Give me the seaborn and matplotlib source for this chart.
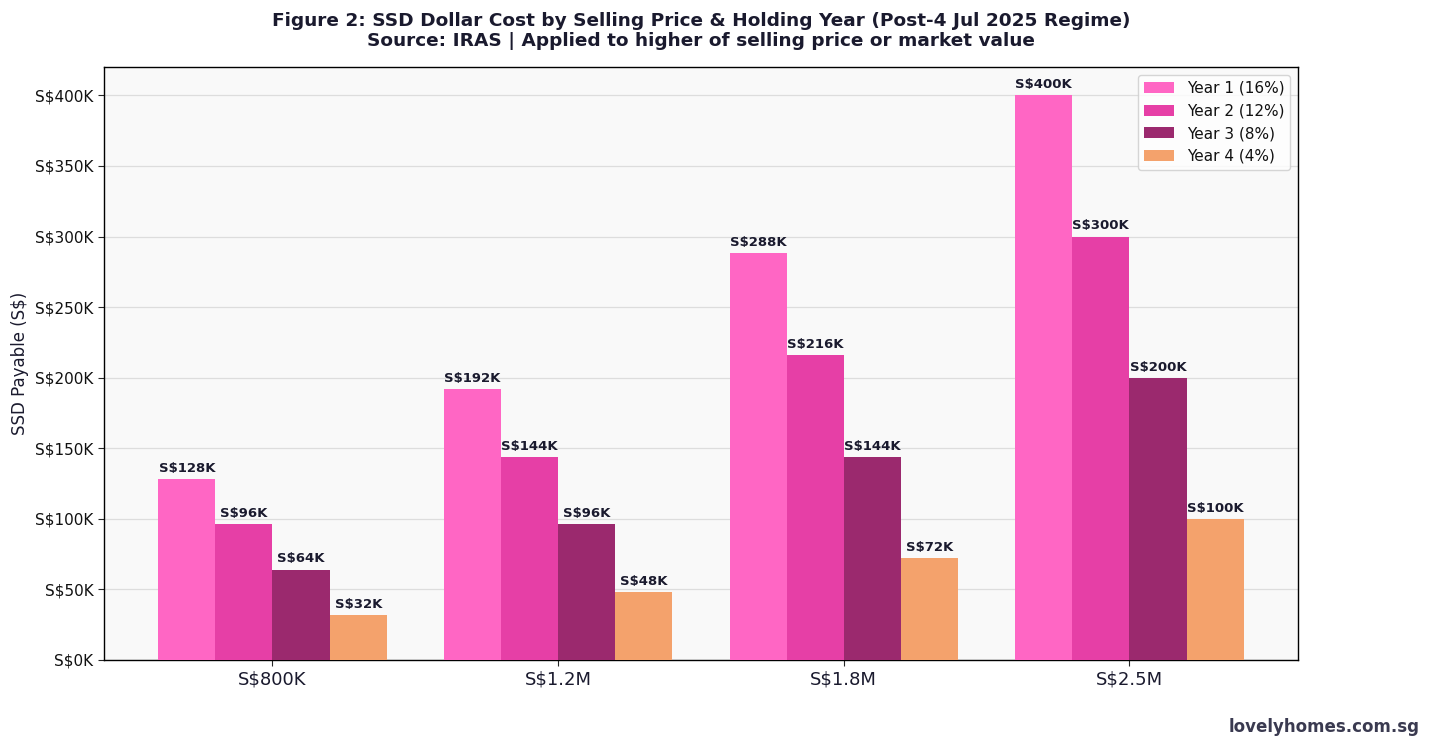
import pandas as pd
import matplotlib.pyplot as plt
import matplotlib.ticker as mticker
import seaborn as sns

sns.set_style("white")
plt.rcParams['font.family'] = ['DejaVu Sans']

# data (S$ thousands)
prices = ["S$800K", "S$1.2M", "S$1.8M", "S$2.5M"]
years = ["Year 1 (16%)", "Year 2 (12%)", "Year 3 (8%)", "Year 4 (4%)"]
year1 = [128, 192, 288, 400]
year2 = [96, 144, 216, 300]
year3 = [64, 96, 144, 200]
year4 = [32, 48, 72, 100]
colors = ["#FF66C4", "#E63FA6", "#9B296E", "#F4A26C"]

rows = []
for yr, vals in zip(years, [year1, year2, year3, year4]):
    for p, v in zip(prices, vals):
        rows.append({"price": p, "year": yr, "ssd": v * 1000})
df = pd.DataFrame(rows)

text_col = "#1a1a2e"

fig = plt.figure(figsize=(14.32, 7.46), dpi=100)
ax = fig.add_axes([0.0726, 0.1153, 0.8338, 0.7947])
ax.set_facecolor("#F9F9F9")

sns.barplot(data=df, x="price", y="ssd", hue="year", palette=colors,
            width=0.8, saturation=1, linewidth=0, edgecolor="none", ax=ax, zorder=3)

for cont in ax.containers:
    ax.bar_label(cont, labels=[f"S${v/1000:.0f}K" for v in cont.datavalues],
                 padding=3, fontsize=9.5, fontweight="bold", color=text_col)

ax.set_xlim(-0.59, 3.59)
ax.set_ylim(0, 420000)
ax.yaxis.set_major_locator(mticker.MultipleLocator(50000))
ax.yaxis.set_major_formatter(mticker.FuncFormatter(lambda x, _: f"S${x/1000:.0f}K"))
ax.grid(axis="y", color="#DDDDDD", linewidth=0.9, zorder=0)
ax.set_axisbelow(True)

ax.tick_params(axis="x", labelsize=13, length=4, bottom=True, labelcolor=text_col)
ax.tick_params(axis="y", labelsize=11, length=4, left=True, labelcolor="#111111")
ax.set_xlabel("")
ax.set_ylabel("SSD Payable (S$)", fontsize=12, color=text_col)
for s in ax.spines.values():
    s.set_color("black")
    s.set_linewidth(1)

ax.set_title("Figure 2: SSD Dollar Cost by Selling Price & Holding Year (Post-4 Jul 2025 Regime)\n"
             "Source: IRAS | Applied to higher of selling price or market value",
             fontsize=13.3, fontweight="bold", color=text_col, pad=15)

leg = ax.legend(loc="upper right", fontsize=11, frameon=True, title=None)
for t in leg.get_texts():
    t.set_color("#111111")

fig.text(0.9915, 0.013, "lovelyhomes.com.sg", ha="right", va="bottom",
         fontsize=12, fontweight="bold", color="#3a3a50")

fig.savefig("out.png", dpi=100)
